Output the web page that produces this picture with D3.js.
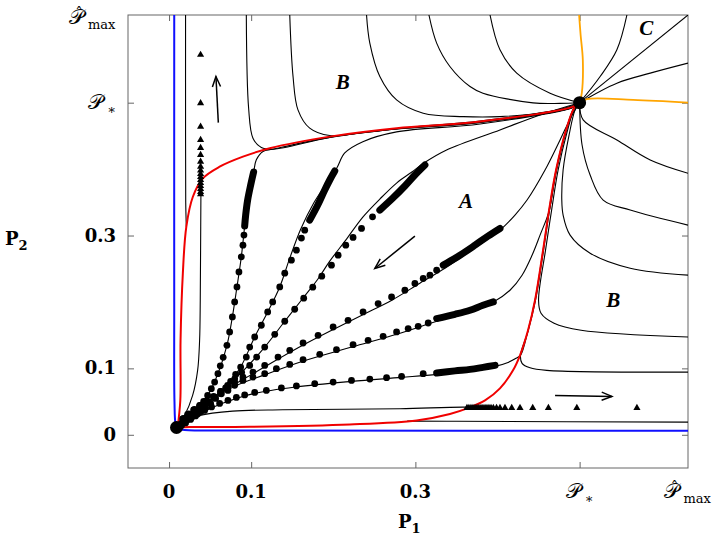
<!DOCTYPE html>
<html>
<head>
<meta charset="utf-8">
<script src="https://cdn.jsdelivr.net/npm/d3@7"></script>
<style>
  body { margin: 0; background: #fff; }
</style>
</head>
<body>
<div id="chart"></div>
<script>
// phase portrait in the (P1, P2) plane

var pStar = 0.5, pMax = 0.632;
var tickVals = [0, 0.1, 0.3, pStar];
var tickNames = ["0", "0.1", "0.3", "star", "max"];

var lowEq = [0.0091, 0.011];
var highEq = [0.5, 0.5];

var blueCurve = [[0.0063,0.632],[0.0063,0.2],[0.0066,0.05],[0.008,0.016],[0.0105,0.009],[0.019,0.0072],[0.1,0.0065],[0.632,0.006]];

var redUpper = [[0.0104,0.011],[0.0137,0.0517],[0.014,0.1422],[0.0168,0.2433],[0.021,0.3131],[0.029,0.3584],[0.0412,0.3861],[0.0616,0.4036],[0.09,0.4187],[0.1226,0.4314],[0.1957,0.4489],[0.2771,0.4615],[0.3787,0.4715],[0.4921,0.4941],[0.5,0.5]];
var redLower = [[0.0104,0.011],[0.025,0.0116],[0.0982,0.0121],[0.2201,0.0155],[0.3015,0.0216],[0.3421,0.0314],[0.3665,0.0412],[0.3848,0.0517],[0.403,0.0698],[0.4189,0.097],[0.4274,0.1196],[0.4372,0.1573],[0.4457,0.2026],[0.4555,0.278],[0.4628,0.3383],[0.4713,0.3986],[0.4835,0.4589],[0.4933,0.4921],[0.5,0.5]];

var orangeUp = [[0.5,0.5],[0.5027,0.5148],[0.5039,0.5645],[0.5012,0.6023],[0.4994,0.632]];
var orangeRight = [[0.5,0.5],[0.5088,0.5053],[0.5652,0.5042],[0.632,0.5002]];

// trajectories ending in the upper equilibrium
var c1 = [[0.0941,0.632],[0.0969,0.4917],[0.1022,0.4465],[0.1124,0.4325],[0.1266,0.4299],[0.1957,0.4475],[0.2771,0.4603],[0.3787,0.4703],[0.4921,0.4933],[0.5,0.5]];
var c2 = [[0.147,0.632],[0.151,0.5394],[0.157,0.4892],[0.1713,0.4616],[0.1957,0.4505],[0.2445,0.4565],[0.3,0.4638],[0.3787,0.4722],[0.4921,0.4945],[0.5,0.5]];
var c3 = [[0.2405,0.632],[0.2445,0.5897],[0.2567,0.5394],[0.2771,0.5042],[0.3095,0.4842],[0.3583,0.479],[0.403,0.479],[0.464,0.4866],[0.4921,0.4959],[0.5,0.5]];
var c4 = [[0.3165,0.632],[0.3259,0.5897],[0.342,0.5545],[0.3665,0.5243],[0.3823,0.5143],[0.4433,0.4997],[0.4762,0.499],[0.5,0.5]];
var c5 = [[0.3909,0.632],[0.403,0.5796],[0.4234,0.5445],[0.464,0.5143],[0.5,0.5]];
var c6 = [[0.5576,0.632],[0.5454,0.5796],[0.525,0.5394],[0.5,0.5]];
var cCorner = [[0.632,0.632],[0.5,0.5]];
var c7 = [[0.632,0.5596],[0.586,0.5445],[0.5454,0.5294],[0.5,0.5]];
var c8 = [[0.632,0.3937],[0.586,0.4137],[0.5454,0.4439],[0.5043,0.4741],[0.5,0.5]];
var rA = [[0.632,0.3157],[0.5616,0.3383],[0.5287,0.3534],[0.5128,0.3911],[0.503,0.4363],[0.5,0.5]];
var rB = [[0.632,0.2403],[0.5616,0.2508],[0.5128,0.2734],[0.4884,0.3006],[0.4799,0.3308],[0.4783,0.3534],[0.4799,0.3986],[0.4872,0.4514],[0.4945,0.4892],[0.5,0.5]];
var rC = [[0.632,0.1472],[0.5018,0.1573],[0.4689,0.1679],[0.453,0.183],[0.45,0.2026],[0.4585,0.278],[0.4659,0.3383],[0.4738,0.3986],[0.4848,0.456],[0.4945,0.4937],[0.5,0.5]];
var rD = [[0.632,0.0944],[0.46,0.097],[0.4396,0.1008],[0.4299,0.1075],[0.428,0.1196],[0.4375,0.1573],[0.4463,0.2026],[0.4561,0.278],[0.4634,0.3383],[0.472,0.3986],[0.4841,0.4589],[0.4939,0.4921],[0.5,0.5]];
var leftDrop = [[0.0201,0.632],[0.0201,0.45],[0.0203,0.35],[0.021,0.3131]];
var bottomFlow = [[0.0091,0.011],[0.0201,0.0201],[0.0372,0.029],[0.0774,0.0356],[0.1384,0.0377],[0.2811,0.0392],[0.3579,0.0416],[0.403,0.0404]];
var bottomRight = [[0.29,0.0205],[0.35,0.0203],[0.632,0.019]];
var triLine = [[0.0091,0.011],[0.0189,0.0291],[0.0287,0.0593],[0.0348,0.097],[0.0372,0.1422],[0.038,0.2026],[0.0384,0.278],[0.0388,0.3624]];

// dotted trajectories in region A (sparse dots, dense end, continuous curve)
var dots1 = [[0.0912,0.3006],[0.09,0.2855],[0.088,0.2679],[0.0851,0.2452],[0.0827,0.2226],[0.0799,0.2],[0.0771,0.1774],[0.0738,0.1548],[0.0705,0.1347],[0.0659,0.1166],[0.0624,0.1038],[0.0595,0.092],[0.0555,0.0793],[0.0515,0.0694],[0.047,0.0593],[0.0421,0.0502],[0.0372,0.0427],[0.0323,0.0351],[0.0274,0.0291],[0.0226,0.0231],[0.0177,0.0178],[0.014,0.014]];
var cluster1 = [[0.0921,0.3142],[0.0933,0.3308],[0.0957,0.3534],[0.0994,0.376],[0.103,0.3956]];
var thin1 = [[0.0091,0.011],[0.0177,0.0178],[0.0323,0.0351],[0.047,0.0593],[0.0595,0.092],[0.0705,0.1347],[0.0771,0.1774],[0.0827,0.2226],[0.088,0.2679],[0.0921,0.3142],[0.0957,0.3534],[0.0994,0.376],[0.103,0.3956],[0.1063,0.414],[0.1144,0.4266],[0.1262,0.4299],[0.1957,0.4478],[0.2771,0.4603],[0.3787,0.4703],[0.4921,0.4933],[0.5,0.5]];

var dots2 = [[0.1652,0.3081],[0.1612,0.2961],[0.1551,0.278],[0.149,0.2629],[0.1409,0.2433],[0.1348,0.2226],[0.1262,0.2],[0.1201,0.1849],[0.1124,0.1649],[0.1043,0.1472],[0.0982,0.1321],[0.0941,0.117],[0.0872,0.102],[0.0811,0.0909],[0.075,0.0804],[0.0689,0.0706],[0.0628,0.0623],[0.0567,0.0548],[0.0506,0.0472],[0.0445,0.0404],[0.0384,0.0344],[0.0323,0.0284],[0.0262,0.0231],[0.0201,0.0178],[0.0152,0.014]];
var cluster2 = [[0.1713,0.3232],[0.1811,0.3459],[0.1896,0.3685],[0.1957,0.3836],[0.2018,0.3971]];
var thin2 = [[0.0091,0.011],[0.0201,0.0178],[0.0445,0.0404],[0.0689,0.0706],[0.0872,0.102],[0.1043,0.1472],[0.1201,0.1849],[0.1348,0.2226],[0.147,0.2659],[0.1604,0.3097],[0.1762,0.3489],[0.1921,0.379],[0.2043,0.4017],[0.214,0.4243],[0.236,0.4413],[0.2771,0.456],[0.3787,0.468],[0.4921,0.4929],[0.5,0.5]];

var dots3 = [[0.2478,0.3282],[0.2344,0.3107],[0.2241,0.2971],[0.2152,0.2855],[0.2059,0.2704],[0.1978,0.2554],[0.186,0.2388],[0.175,0.2222],[0.164,0.2056],[0.153,0.189],[0.1409,0.1709],[0.1287,0.1513],[0.1165,0.1321],[0.1067,0.117],[0.0982,0.1045],[0.0884,0.094],[0.0799,0.0842],[0.0713,0.0744],[0.0628,0.0653],[0.0543,0.0563],[0.047,0.0487],[0.0396,0.0412],[0.0323,0.0344],[0.0262,0.0284],[0.0201,0.0223],[0.0152,0.017]];
var cluster3 = [[0.2567,0.3383],[0.2726,0.3564],[0.2872,0.3745],[0.2994,0.3911],[0.3116,0.4062]];
var thin3 = [[0.0091,0.011],[0.0262,0.0284],[0.0543,0.0563],[0.0884,0.094],[0.1165,0.1321],[0.1409,0.1709],[0.164,0.2071],[0.1811,0.2342],[0.1957,0.2614],[0.2152,0.2931],[0.236,0.3278],[0.2567,0.3549],[0.2771,0.379],[0.2957,0.3956],[0.3104,0.4092],[0.338,0.4288],[0.403,0.459],[0.4518,0.4816],[0.5,0.5]];

var dots4 = [[0.3259,0.2478],[0.3177,0.2403],[0.3095,0.2353],[0.2994,0.2278],[0.2872,0.2176],[0.271,0.2075],[0.2546,0.1976],[0.2363,0.1849],[0.218,0.1724],[0.1998,0.1623],[0.1815,0.1498],[0.1632,0.1382],[0.147,0.1271],[0.1327,0.117],[0.1165,0.1045],[0.1022,0.0944],[0.09,0.0869],[0.0799,0.0793],[0.0713,0.0721],[0.0628,0.0653],[0.0543,0.0578],[0.0457,0.051],[0.0372,0.0442],[0.0299,0.0374],[0.0226,0.0306],[0.0165,0.0238]];
var cluster4 = [[0.3339,0.2554],[0.3543,0.2704],[0.3726,0.2855],[0.3884,0.2991],[0.403,0.3107]];
var thin4 = [[0.0091,0.011],[0.0226,0.0291],[0.0457,0.0495],[0.0713,0.0698],[0.1018,0.0917],[0.1323,0.1136],[0.1628,0.1347],[0.1994,0.1581],[0.236,0.1807],[0.2713,0.2026],[0.3055,0.2282],[0.336,0.2508],[0.3665,0.2765],[0.403,0.3081],[0.4213,0.3308],[0.436,0.3534],[0.4579,0.3986],[0.4762,0.4439],[0.4909,0.4816],[0.5,0.5]];

var dots5 = [[0.3156,0.1683],[0.3034,0.1633],[0.2912,0.1599],[0.2771,0.1548],[0.2607,0.1483],[0.2424,0.1422],[0.2241,0.1357],[0.2039,0.1282],[0.1835,0.1211],[0.1632,0.1131],[0.147,0.106],[0.1307,0.0995],[0.1165,0.092],[0.1022,0.0869],[0.09,0.0819],[0.0799,0.0744],[0.0717,0.0668],[0.0637,0.0618],[0.0555,0.0563],[0.047,0.0502],[0.0384,0.0442],[0.0311,0.0382],[0.0238,0.0314],[0.0177,0.0246]];
var cluster5 = [[0.3259,0.175],[0.3482,0.1814],[0.3665,0.1875],[0.3823,0.195],[0.3949,0.2]];
var thin5 = [[0.0091,0.011],[0.0238,0.0306],[0.047,0.0487],[0.0799,0.0729],[0.1165,0.0902],[0.1628,0.1106],[0.2238,0.1324],[0.2771,0.1513],[0.3262,0.1709],[0.3665,0.186],[0.3945,0.1995],[0.4152,0.2176],[0.4299,0.2403],[0.4421,0.2704],[0.4518,0.3006],[0.4628,0.3368],[0.4713,0.3971],[0.4835,0.4575],[0.4933,0.4922],[0.5,0.5]];

var dots6 = [[0.3095,0.092],[0.2832,0.0879],[0.2649,0.086],[0.2445,0.0839],[0.2222,0.0819],[0.1998,0.0793],[0.1774,0.0769],[0.1551,0.0736],[0.1368,0.0706],[0.1185,0.0668],[0.1043,0.0638],[0.0921,0.06],[0.082,0.0563],[0.0717,0.0517],[0.0616,0.0472],[0.0518,0.0419],[0.0433,0.0367],[0.0348,0.0314],[0.0274,0.0261],[0.0201,0.0208]];
var cluster6 = [[0.3259,0.0929],[0.3482,0.0962],[0.3665,0.0985],[0.3823,0.1015],[0.397,0.1045]];
var thin6 = [[0.0091,0.011],[0.0201,0.0216],[0.0433,0.0359],[0.0713,0.0502],[0.1043,0.0623],[0.1551,0.0721],[0.2222,0.0804],[0.2832,0.0864],[0.3262,0.0909],[0.3665,0.097],[0.397,0.103],[0.4128,0.109],[0.4226,0.1151],[0.428,0.1196],[0.4372,0.1573],[0.4457,0.2026],[0.4555,0.278],[0.4628,0.3383],[0.4713,0.3986],[0.4835,0.4589],[0.4933,0.4921],[0.5,0.5]];

// triangle trajectories leaving region A
var triVertical = [[0.0384,0.5721],[0.0384,0.4992],[0.0384,0.464],[0.0384,0.4439],[0.0384,0.4318],[0.0384,0.4213],[0.0384,0.4112],[0.0384,0.4036],[0.0384,0.3979],[0.0384,0.3926],[0.0384,0.3881],[0.0384,0.3836],[0.0384,0.379],[0.0384,0.3745],[0.0384,0.37],[0.0384,0.3655],[0.0384,0.3624]];
var triHorizontal = [[0.3628,0.0404],[0.3652,0.0404],[0.3677,0.0404],[0.3701,0.0404],[0.3726,0.0404],[0.375,0.0404],[0.3774,0.0404],[0.3799,0.0404],[0.3823,0.0404],[0.3848,0.0404],[0.3872,0.0404],[0.3896,0.0404],[0.3921,0.0404],[0.3949,0.0404],[0.3988,0.0404],[0.403,0.0404],[0.4091,0.0404],[0.4173,0.0404],[0.4274,0.0404],[0.4429,0.0404],[0.462,0.0404],[0.4966,0.0404],[0.5698,0.0404]];

var arrows = [
  [[0.06,0.47],[0.0571,0.5394]],
  [[0.2994,0.2991],[0.2506,0.2504]],
  [[0.4701,0.0593],[0.5393,0.0578]]
];
var regionLabels = [
  {t: "B", x: 0.2116, y: 0.5314},
  {t: "A", x: 0.3616, y: 0.3519},
  {t: "B", x: 0.5409, y: 0.2026},
  {t: "C", x: 0.5811, y: 0.6128}
];

var blackCurves = [c1, c2, c3, c4, c5, c6, cCorner, c7, c8, rA, rB, rC, rD,
  leftDrop, bottomFlow, bottomRight, triLine, thin1, thin2, thin3, thin4, thin5, thin6];
var dotSets = [dots1, dots2, dots3, dots4, dots5, dots6];
var clusters = [cluster1, cluster2, cluster3, cluster4, cluster5, cluster6];

///////////////////////////////////////////////////////////

var width = 714, height = 538;
var svg = d3.select("#chart").append("svg")
  .attr("width", width)
  .attr("height", height);

var x = d3.scaleLinear().domain([-0.05, pMax]).range([128, 688]);
var y = d3.scaleLinear().domain([-0.05, pMax]).range([468, 15]);

var serif = "'DejaVu Serif', serif";
var frameColor = "#666";

svg.append("defs").append("clipPath").attr("id", "plot")
  .append("rect")
  .attr("x", x(-0.05)).attr("y", y(pMax))
  .attr("width", x(pMax) - x(-0.05)).attr("height", y(-0.05) - y(pMax));

// ticks on all four sides, pointing inward
function tickAxis(axis, tx, ty) {
  var g = svg.append("g")
    .attr("transform", "translate(" + tx + "," + ty + ")")
    .call(axis.tickValues(tickVals).tickSize(-6).tickFormat(""));
  g.select(".domain").remove();
  g.selectAll(".tick line").attr("stroke", frameColor);
}
tickAxis(d3.axisBottom(x), 0, y(-0.05));
tickAxis(d3.axisTop(x), 0, y(pMax));
tickAxis(d3.axisLeft(y), x(-0.05), 0);
tickAxis(d3.axisRight(y), x(pMax), 0);

svg.append("rect")
  .attr("x", x(-0.05)).attr("y", y(pMax))
  .attr("width", x(pMax) - x(-0.05)).attr("height", y(-0.05) - y(pMax))
  .attr("fill", "none").attr("stroke", frameColor).attr("stroke-width", 1);

var plot = svg.append("g").attr("clip-path", "url(#plot)");

var line = d3.line()
  .x(function(d) { return x(d[0]); })
  .y(function(d) { return y(d[1]); })
  .curve(d3.curveCatmullRom.alpha(0.5));

plot.selectAll("path.traj")
  .data(blackCurves)
  .enter().append("path")
    .attr("class", "traj")
    .attr("d", line)
    .attr("fill", "none")
    .attr("stroke", "#000")
    .attr("stroke-width", 1.1);

plot.append("path").datum(blueCurve).attr("d", line)
  .attr("fill", "none").attr("stroke", "#1010ff").attr("stroke-width", 2);

[redUpper, redLower].forEach(function(c) {
  plot.append("path").datum(c).attr("d", line)
    .attr("fill", "none").attr("stroke", "#f00000").attr("stroke-width", 2);
});
[orangeUp, orangeRight].forEach(function(c) {
  plot.append("path").datum(c).attr("d", line)
    .attr("fill", "none").attr("stroke", "#ffa500").attr("stroke-width", 1.8);
});

// dense ends of the dotted runs
plot.selectAll("path.cluster")
  .data(clusters)
  .enter().append("path")
    .attr("class", "cluster")
    .attr("d", line)
    .attr("fill", "none")
    .attr("stroke", "#000")
    .attr("stroke-width", 7)
    .attr("stroke-linecap", "round");

dotSets.forEach(function(set) {
  plot.append("g").selectAll("circle")
    .data(set)
    .enter().append("circle")
      .attr("cx", function(d) { return x(d[0]); })
      .attr("cy", function(d) { return y(d[1]); })
      .attr("r", 3.4)
      .attr("fill", "#000");
});

var tri = d3.symbol().type(d3.symbolTriangle).size(22);
[triVertical, triHorizontal].forEach(function(set) {
  plot.append("g").selectAll("path")
    .data(set)
    .enter().append("path")
      .attr("d", tri)
      .attr("transform", function(d) { return "translate(" + x(d[0]) + "," + y(d[1]) + ")"; })
      .attr("fill", "#000");
});

[lowEq, highEq].forEach(function(p) {
  plot.append("circle")
    .attr("cx", x(p[0])).attr("cy", y(p[1]))
    .attr("r", 6.5).attr("fill", "#000");
});

// arrows with open heads
arrows.forEach(function(a) {
  var x0 = x(a[0][0]), y0 = y(a[0][1]), x1 = x(a[1][0]), y1 = y(a[1][1]);
  var ang = Math.atan2(y1 - y0, x1 - x0);
  var len = 11, spread = 0.38;
  var g = plot.append("g").attr("stroke", "#000").attr("stroke-width", 1.5).attr("fill", "none");
  g.append("line").attr("x1", x0).attr("y1", y0).attr("x2", x1).attr("y2", y1);
  g.append("path").attr("d",
    "M" + (x1 - len * Math.cos(ang - spread)) + "," + (y1 - len * Math.sin(ang - spread)) +
    "L" + x1 + "," + y1 +
    "L" + (x1 - len * Math.cos(ang + spread)) + "," + (y1 - len * Math.sin(ang + spread)));
});

svg.selectAll("text.region")
  .data(regionLabels)
  .enter().append("text")
    .attr("class", "region")
    .attr("x", function(d) { return x(d.x); })
    .attr("y", function(d) { return y(d.y) + 7; })
    .attr("text-anchor", "middle")
    .attr("font-family", "'Liberation Serif', serif")
    .attr("font-style", "italic")
    .attr("font-weight", "bold")
    .attr("font-size", 21)
    .text(function(d) { return d.t; });

// tick labels; script P ones are built from pieces and then placed
function tickLabel(name, px, py, anchor) {
  var g = svg.append("g");
  if (name === "star" || name === "max") {
    var p = g.append("text")
      .attr("font-family", "'DejaVu Sans', 'DejaVu Serif', serif")
      .attr("font-size", 21)
      .text("\uD835\uDCAB");
    var bb = p.node().getBBox();
    if (name === "star") {
      g.append("text").attr("x", bb.width + 1).attr("y", 5)
        .attr("font-family", serif).attr("font-size", 13).text("\u2217");
    } else {
      g.append("text").attr("x", bb.width + 1).attr("y", 5)
        .attr("font-family", serif).attr("font-size", 13).text("max");
      g.append("text").attr("x", bb.width / 2 + 1).attr("y", -6)
        .attr("text-anchor", "middle")
        .attr("font-family", serif).attr("font-size", 15).text("\u02C6");
    }
  } else {
    g.append("text")
      .attr("font-family", serif)
      .attr("font-weight", "bold")
      .attr("font-size", 18)
      .text(name);
  }
  var box = g.node().getBBox();
  var dx = anchor === "end" ? px - (box.x + box.width) : px - (box.x + box.width / 2);
  g.attr("transform", "translate(" + dx + "," + py + ")");
}

var labelVals = [0, 0.1, 0.3, pStar, pMax];
labelVals.forEach(function(v, i) {
  tickLabel(tickNames[i], x(v), 498, "middle");
});
labelVals.forEach(function(v, i) {
  tickLabel(tickNames[i], 116, y(v) + (i === 4 ? 9 : 6), "end");
});

// axis titles
var t1 = svg.append("text").attr("x", 398).attr("y", 528)
  .attr("font-family", serif).attr("font-weight", "bold").attr("font-size", 18);
t1.append("tspan").text("P");
t1.append("tspan").attr("dy", 5).attr("font-size", 13).text("1");

var t2 = svg.append("text").attr("x", 5).attr("y", 245)
  .attr("font-family", serif).attr("font-weight", "bold").attr("font-size", 18);
t2.append("tspan").text("P");
t2.append("tspan").attr("dy", 5).attr("font-size", 13).text("2");
</script>
</body>
</html>
